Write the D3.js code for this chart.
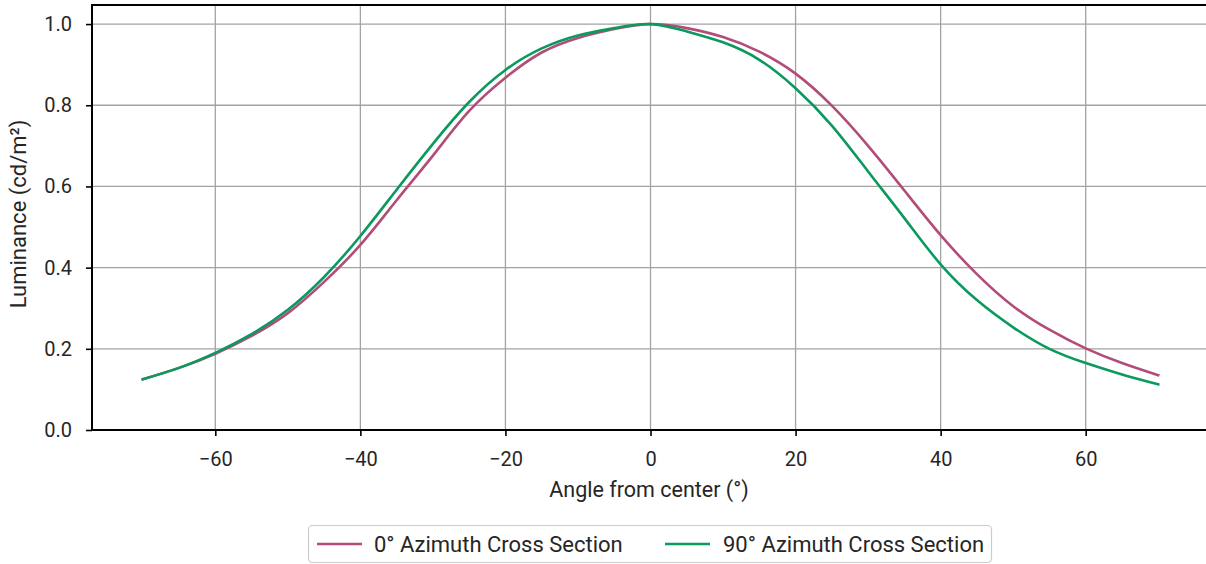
<!DOCTYPE html>
<html>
<head>
<meta charset="utf-8">
<script src="https://cdn.jsdelivr.net/npm/d3@7"></script>
<style>
  html, body { margin: 0; padding: 0; background: #fff; }
  svg { display: block; font-family: Roboto, "Noto Sans", sans-serif; }
</style>
</head>
<body>
<svg id="chart" width="1206" height="564"></svg>
<script>
// Viewing angle samples (degrees from center)
const angles = [-70, -65, -60, -55, -50, -45, -40, -35, -30, -25, -20, -15, -10, -5,
                0, 5, 10, 15, 20, 25, 30, 35, 40, 45, 50, 55, 60, 65, 70];

// Normalised luminance along the 0° azimuth cross section
const azimuth0 = [0.125, 0.153, 0.188, 0.232, 0.288, 0.365, 0.456, 0.566, 0.676, 0.786, 0.868, 0.930, 0.966, 0.988,
                  1.000, 0.990, 0.968, 0.932, 0.878, 0.799, 0.700, 0.590, 0.480, 0.384, 0.305, 0.247, 0.201, 0.165, 0.135];

// Normalised luminance along the 90° azimuth cross section
const azimuth90 = [0.125, 0.153, 0.190, 0.236, 0.296, 0.377, 0.478, 0.592, 0.705, 0.808, 0.887, 0.940, 0.972, 0.990,
                   1.000, 0.982, 0.955, 0.912, 0.842, 0.750, 0.637, 0.522, 0.408, 0.320, 0.253, 0.200, 0.165, 0.137, 0.1125];

const seriesNames = ["0° Azimuth Cross Section", "90° Azimuth Cross Section"];
const seriesColors = ["#b24c78", "#0b9a5d"];

const xTicks = [-60, -40, -20, 0, 20, 40, 60];
const yTicks = [0.0, 0.2, 0.4, 0.6, 0.8, 1.0];

const xLabel = "Angle from center (°)";
const yLabel = "Luminance (cd/m²)";

const svg = d3.select("#chart");
const margin = { left: 92, top: 5, right: 1209, bottom: 430 };

const x = d3.scaleLinear().domain([-77, 77]).range([margin.left, margin.right]);
const y = d3.scaleLinear().domain([0, 1.047]).range([margin.bottom, margin.top]);

const textColor = "#262626";

// Grid
const grid = svg.append("g");
grid.selectAll("line.gx").data(xTicks).join("line")
  .attr("x1", d => x(d)).attr("x2", d => x(d))
  .attr("y1", margin.top).attr("y2", margin.bottom)
  .attr("stroke", "#a3a3a3").attr("stroke-width", 1.3);
grid.selectAll("line.gy").data(yTicks).join("line")
  .attr("x1", margin.left).attr("x2", margin.right)
  .attr("y1", d => y(d)).attr("y2", d => y(d))
  .attr("stroke", "#a3a3a3").attr("stroke-width", 1.3);

// Curves
const series = [azimuth0, azimuth90];
const line = d3.line()
  .x((d, i) => x(angles[i]))
  .y(d => y(d))
  .curve(d3.curveNatural);

series.forEach((vals, k) => {
  svg.append("path")
    .datum(vals)
    .attr("d", line)
    .attr("fill", "none")
    .attr("stroke", seriesColors[k])
    .attr("stroke-width", 2.6)
    .attr("stroke-linejoin", "round")
    .attr("stroke-linecap", "square");
});

// Axes
const xAxis = d3.axisBottom(x).tickValues(xTicks).tickSize(6).tickPadding(16)
  .tickFormat(d => d3.format("d")(d).replace("-", "\u2212"));
const yAxis = d3.axisLeft(y).tickValues(yTicks).tickSize(6).tickPadding(14)
  .tickFormat(d3.format(".1f"));

const gx = svg.append("g").attr("transform", `translate(0,${margin.bottom})`).call(xAxis);
const gy = svg.append("g").attr("transform", `translate(${margin.left},0)`).call(yAxis);

[gx, gy].forEach(g => {
  g.select(".domain").remove();
  g.selectAll(".tick line").attr("stroke", "#000").attr("stroke-width", 1.6);
  g.selectAll(".tick text").attr("fill", textColor).attr("font-size", 20)
    .attr("font-family", "Roboto, 'Noto Sans', sans-serif");
});

// Spines (left, bottom, top)
svg.append("line").attr("x1", margin.left).attr("x2", margin.left)
  .attr("y1", margin.top - 1).attr("y2", margin.bottom + 1)
  .attr("stroke", "#000").attr("stroke-width", 2);
svg.append("line").attr("x1", margin.left - 1).attr("x2", margin.right)
  .attr("y1", margin.bottom).attr("y2", margin.bottom)
  .attr("stroke", "#000").attr("stroke-width", 2);
svg.append("line").attr("x1", margin.left - 1).attr("x2", margin.right)
  .attr("y1", margin.top).attr("y2", margin.top)
  .attr("stroke", "#000").attr("stroke-width", 2);

// Axis titles
svg.append("text")
  .attr("x", 649).attr("y", 497)
  .attr("text-anchor", "middle")
  .attr("font-size", 21.5).attr("fill", textColor)
  .text(xLabel);

svg.append("text")
  .attr("transform", "translate(26,214) rotate(-90)")
  .attr("text-anchor", "middle")
  .attr("font-size", 22).attr("fill", textColor)
  .text(yLabel);

// Legend
const legend = svg.append("g");
legend.append("rect")
  .attr("x", 308.5).attr("y", 525.5).attr("width", 683).attr("height", 37)
  .attr("rx", 4).attr("ry", 4)
  .attr("fill", "#fff").attr("stroke", "#cccccc").attr("stroke-width", 1.2);

const legendItems = [
  { lx: 317, tx: 374 },
  { lx: 665, tx: 723 }
];
legendItems.forEach((it, k) => {
  legend.append("line")
    .attr("x1", it.lx).attr("x2", it.lx + 45)
    .attr("y1", 544).attr("y2", 544)
    .attr("stroke", seriesColors[k]).attr("stroke-width", 2.6);
  legend.append("text")
    .attr("x", it.tx).attr("y", 551.5)
    .attr("font-size", 22).attr("fill", textColor)
    .text(seriesNames[k]);
});
</script>
</body>
</html>
